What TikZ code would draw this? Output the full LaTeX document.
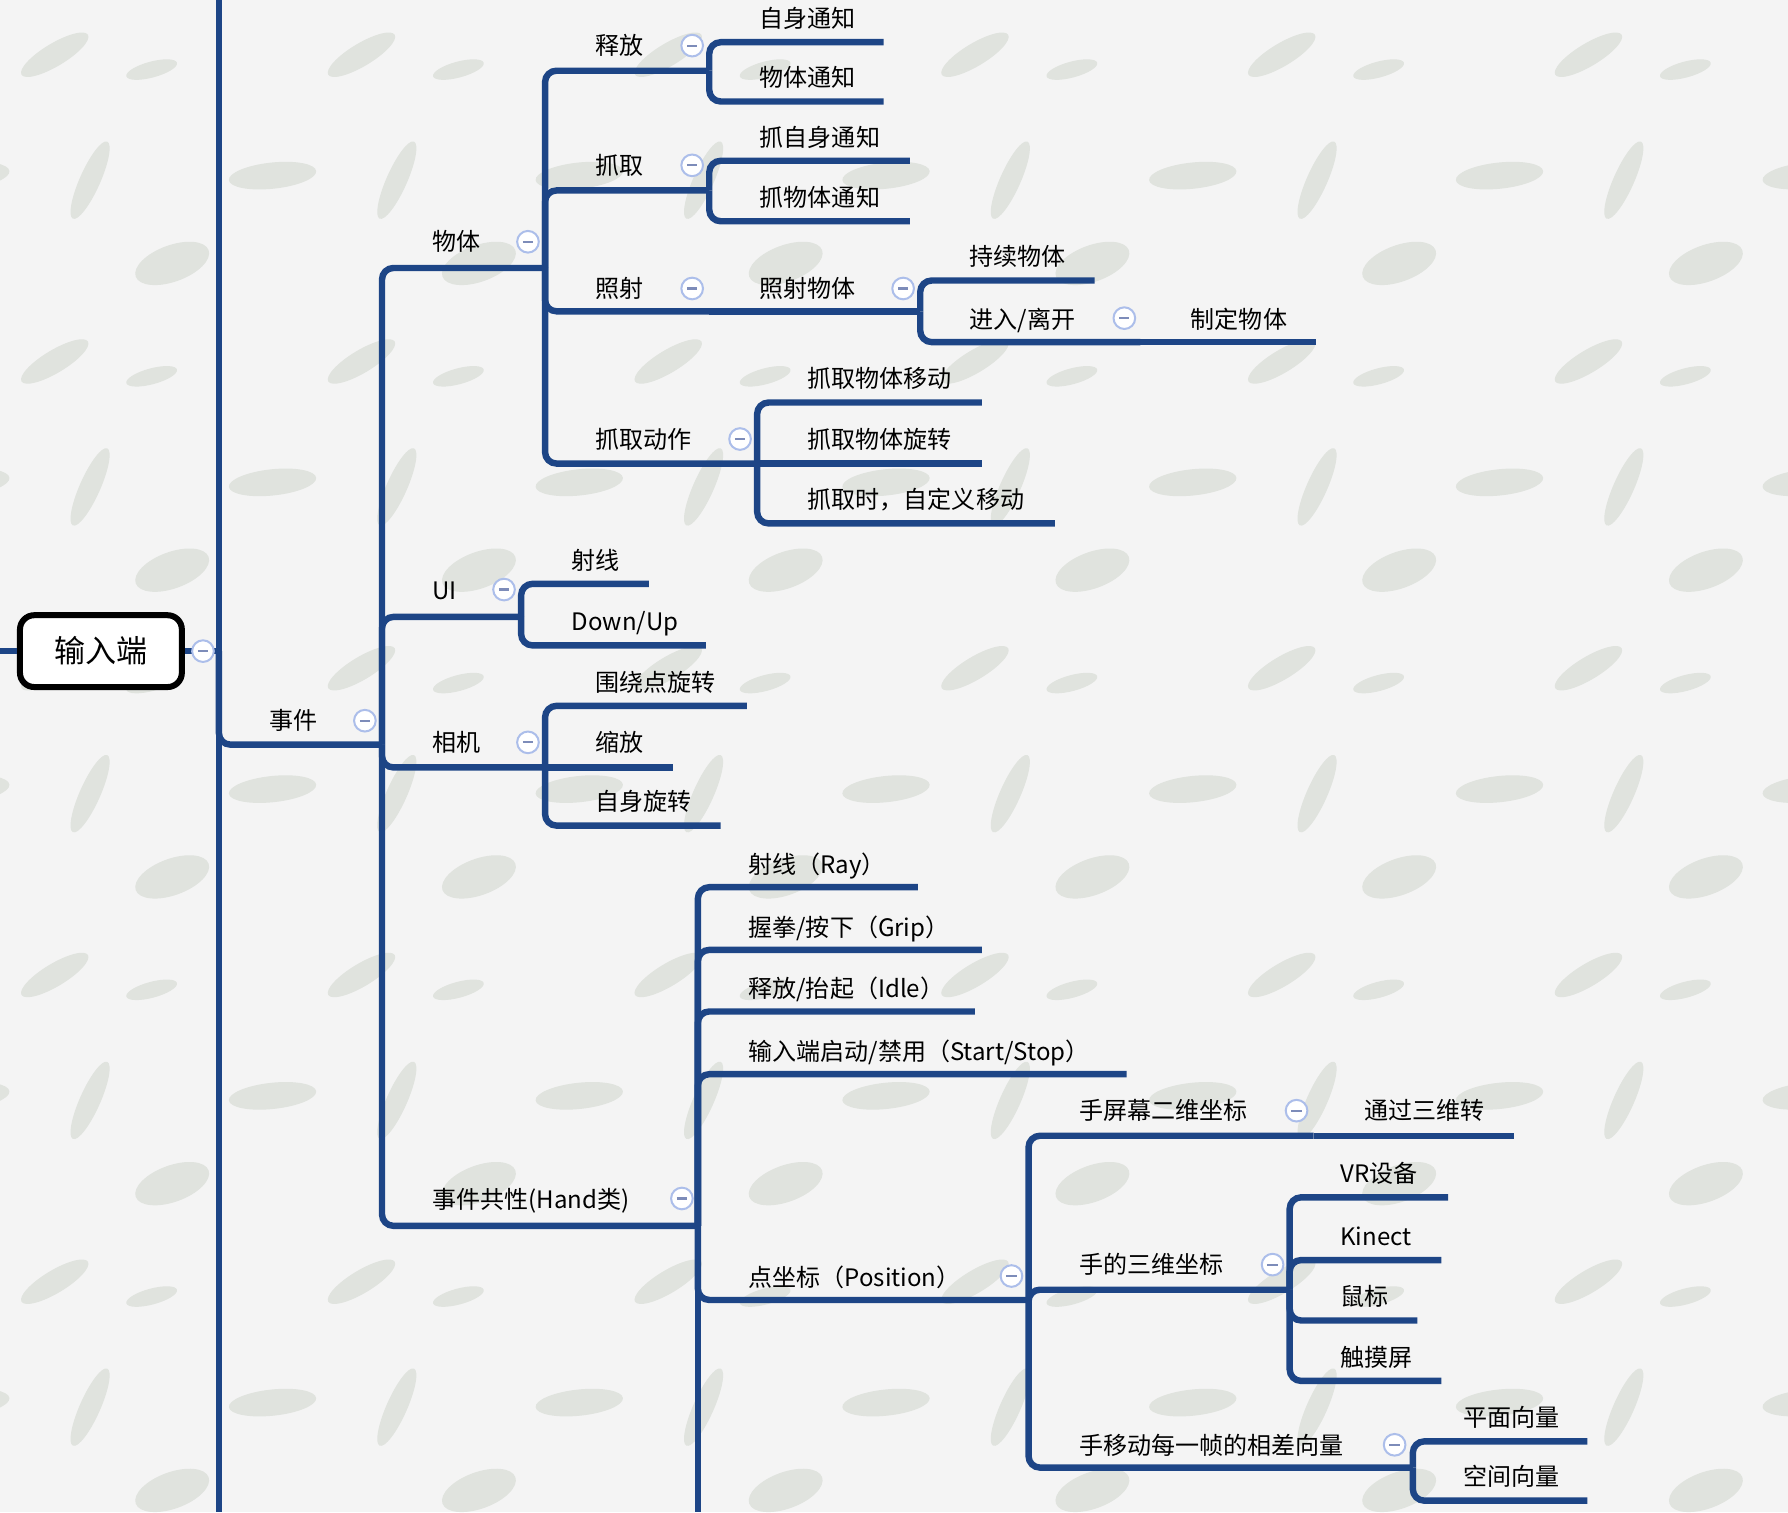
\documentclass[tikz,border=0pt]{standalone}
\usepackage{fontspec}
\setmainfont{Noto Sans CJK SC}

\definecolor{paper}{RGB}{244,244,244}
\definecolor{leaf}{RGB}{224,227,222}
\definecolor{linkblue}{RGB}{29,69,134}
\definecolor{foldring}{RGB}{172,190,234}
\definecolor{foldbar}{RGB}{125,140,185}

\tikzset{
    branch/.style={draw=linkblue, line width=3.2pt, rounded corners=0.2cm},
    topic/.style={anchor=west, inner sep=0pt, text height=1.04em, text depth=0.12em,
        font=\fontsize{12}{14}\selectfont, text=black},
    fold/.style={circle, draw=foldring, fill=white, line width=1pt, minimum size=0.38cm, inner sep=0pt,
        path picture={\draw[foldbar, line width=1.1pt]
            ([xshift=-0.09cm]path picture bounding box.center) -- ([xshift=0.09cm]path picture bounding box.center);}},
    rootbox/.style={draw=black, fill=white, line width=3pt, rounded corners=0.25cm,
        minimum width=2.84cm, minimum height=1.26cm, font=\fontsize{15.5}{18}\selectfont},
}

\begin{document}
\begin{tikzpicture}[x=0.02cm, y=-0.02cm]
    \useasboundingbox (0,0) rectangle (1568,1326);

    % Carta
    \fill[paper] (0,0) rectangle (1568,1326);
    \foreach \i in {-1,...,5} {
        \foreach \j in {-1,...,4} {
            \begin{scope}[shift={(269*\i,269*\j)}]
                \fill[leaf] (48,48) circle [x radius=0.68cm, y radius=0.20cm, rotate=31];
                \fill[leaf] (133,61) circle [x radius=0.46cm, y radius=0.14cm, rotate=15];
                \fill[leaf] (79,158) circle [x radius=0.74cm, y radius=0.18cm, rotate=66];
                \fill[leaf] (239,154) circle [x radius=0.77cm, y radius=0.23cm, rotate=6];
                \fill[leaf] (151,231) circle [x radius=0.68cm, y radius=0.32cm, rotate=20];
            \end{scope}
        }
    }

    % Tronco
    \coordinate (inlet) at (0,571);
    \coordinate (hub) at (192,571);
    \coordinate (trunk-top) at (192,0);
    \coordinate (trunk-bot) at (192,1326);
    \node[rootbox] (root) at (88.5,571) {输入端};
    \draw[branch] (inlet) -- (root.west);
    \draw[branch] (root.east) -- (hub);
    \draw[branch] (trunk-top) -- (trunk-bot);

    % Evento
    \coordinate (shijian) at (335,653);
    \draw[branch] (hub) |- (shijian);
    \node[topic] (shijian-t) at (236,632) {事件};

    \coordinate (wuti) at (478,235);
    \coordinate (ui) at (457,541);
    \coordinate (xiangji) at (478,673);
    \coordinate (hand) at (612,1075);
    \draw[branch] (shijian) |- (wuti);
    \draw[branch] (shijian) |- (ui);
    \draw[branch] (shijian) |- (xiangji);
    \draw[branch] (shijian) |- (hand);
    \node[topic] (wuti-t) at (379,212) {物体};
    \node[topic] (ui-t) at (379,518) {UI};
    \node[topic] (xiangji-t) at (379,651) {相机};
    \node[topic] (hand-t) at (379,1052) {事件共性(Hand类)};

    % Oggetto
    \coordinate (shifang) at (622,62);
    \coordinate (zhuaqu) at (622,167);
    \coordinate (zhaoshe) at (622,273);
    \coordinate (zqdz) at (664,406.5);
    \foreach \n in {shifang,zhuaqu,zhaoshe,zqdz}
        \draw[branch] (wuti) |- (\n);
    \node[topic] (shifang-t) at (522,40) {释放};
    \node[topic] (zhuaqu-t) at (522,145) {抓取};
    \node[topic] (zhaoshe-t) at (522,253) {照射};
    \node[topic] (zqdz-t) at (522,385) {抓取动作};

    \foreach \n/\y/\xe/\txt in {zstz/37/775/自身通知, wttz/89/775/物体通知} {
        \coordinate (\n) at (\xe,\y);
        \draw[branch] (shifang) |- (\n);
        \node[topic] (\n-t) at (666,\y-21) {\txt};
    }
    \foreach \n/\y/\xe/\txt in {zzs/141/798/抓自身通知, zwt/194/798/抓物体通知} {
        \coordinate (\n) at (\xe,\y);
        \draw[branch] (zhuaqu) |- (\n);
        \node[topic] (\n-t) at (666,\y-21) {\txt};
    }

    \coordinate (zswt) at (807,273);
    \draw[branch] (zhaoshe) -- (zswt);
    \node[topic] (zswt-t) at (666,253) {照射物体};
    \coordinate (chixu) at (960,246);
    \coordinate (jinru) at (1000,300);
    \coordinate (zhiding) at (1154,300);
    \draw[branch] (zswt) |- (chixu);
    \draw[branch] (zswt) |- (jinru);
    \draw[branch] (jinru) -- (zhiding);
    \node[topic] (chixu-t) at (850,225) {持续物体};
    \node[topic] (jinru-t) at (850,280) {进入/离开};
    \node[topic] (zhiding-t) at (1044,280) {制定物体};

    \coordinate (zqxz) at (861,406.5);
    \draw[branch] (zqdz) -- (zqxz);
    \node[topic] (zqxz-t) at (708,385) {抓取物体旋转};
    \foreach \n/\y/\xe/\txt in {zqyd/353/861/抓取物体移动, zqzd/459/925/{抓取时，自定义移动}} {
        \coordinate (\n) at (\xe,\y);
        \draw[branch] (zqdz) |- (\n);
        \node[topic] (\n-t) at (708,\y-21) {\txt};
    }

    % UI
    \foreach \n/\y/\xe/\txt in {uisx/512/569/射线, uidu/566/619/{Down/Up}} {
        \coordinate (\n) at (\xe,\y);
        \draw[branch] (ui) |- (\n);
        \node[topic] (\n-t) at (501,\y-21) {\txt};
    }

    % Camera
    \coordinate (suofang) at (590,673);
    \draw[branch] (xiangji) -- (suofang);
    \node[topic] (suofang-t) at (522,651) {缩放};
    \foreach \n/\y/\xe/\txt in {raodian/619/655/围绕点旋转, zishen/724/632/自身旋转} {
        \coordinate (\n) at (\xe,\y);
        \draw[branch] (xiangji) |- (\n);
        \node[topic] (\n-t) at (522,\y-21) {\txt};
    }

    % Mano
    \coordinate (hand-more) at (612,1326);
    \draw[branch] (hand) -- (hand-more);
    \foreach \n/\y/\xe/\txt in {ray/778/805/{射线（Ray）}, grip/833/861/{握拳/按下（Grip）},
            idle/887/855/{释放/抬起（Idle）}, start/942/988/{输入端启动/禁用（Start/Stop）}} {
        \coordinate (\n) at (\xe,\y);
        \draw[branch] (hand) |- (\n);
        \node[topic] (\n-t) at (656,\y-20) {\txt};
    }
    \coordinate (dian) at (902,1140);
    \draw[branch] (hand) |- (dian);
    \node[topic] (dian-t) at (656,1120) {点坐标（Position）};

    \coordinate (pm2d) at (1152,996);
    \coordinate (tongguo) at (1328,996);
    \coordinate (sd3d) at (1131,1131);
    \coordinate (xcxl) at (1239,1287);
    \draw[branch] (dian) |- (pm2d);
    \draw[branch] (pm2d) -- (tongguo);
    \draw[branch] (dian) |- (sd3d);
    \draw[branch] (dian) |- (xcxl);
    \node[topic] (pm2d-t) at (946,974) {手屏幕二维坐标};
    \node[topic] (tongguo-t) at (1196,974) {通过三维转};
    \node[topic] (sd3d-t) at (946,1109) {手的三维坐标};
    \node[topic] (xcxl-t) at (946,1267) {手移动每一帧的相差向量};

    \foreach \n/\y/\xe/\txt in {vr/1050/1270/VR设备, kinect/1105/1264/Kinect,
            shubiao/1158/1243/鼠标, chumo/1211/1264/触摸屏} {
        \coordinate (\n) at (\xe,\y);
        \draw[branch] (sd3d) |- (\n);
        \node[topic] (\n-t) at (1175,\y-21) {\txt};
    }
    \foreach \n/\y/\xe/\txt in {pingmian/1264/1392/平面向量, kongjian/1316/1392/空间向量} {
        \coordinate (\n) at (\xe,\y);
        \draw[branch] (xcxl) |- (\n);
        \node[topic] (\n-t) at (1283,\y-21) {\txt};
    }

    % Pulsanti
    \node[fold] (root-f) at (178,571) {};
    \node[fold] (shijian-f) at (320,632) {};
    \node[fold] (wuti-f) at (463,212) {};
    \node[fold] (ui-f) at (442,517) {};
    \node[fold] (xiangji-f) at (463,651) {};
    \node[fold] (hand-f) at (598,1051) {};
    \node[fold] (shifang-f) at (607,40) {};
    \node[fold] (zhuaqu-f) at (607,145) {};
    \node[fold] (zhaoshe-f) at (607,253) {};
    \node[fold] (zswt-f) at (792,253) {};
    \node[fold] (jinru-f) at (986,279) {};
    \node[fold] (zqdz-f) at (649,385) {};
    \node[fold] (dian-f) at (887,1119) {};
    \node[fold] (pm2d-f) at (1137,974) {};
    \node[fold] (sd3d-f) at (1116,1109) {};
    \node[fold] (xcxl-f) at (1223,1267) {};
\end{tikzpicture}
\end{document}
